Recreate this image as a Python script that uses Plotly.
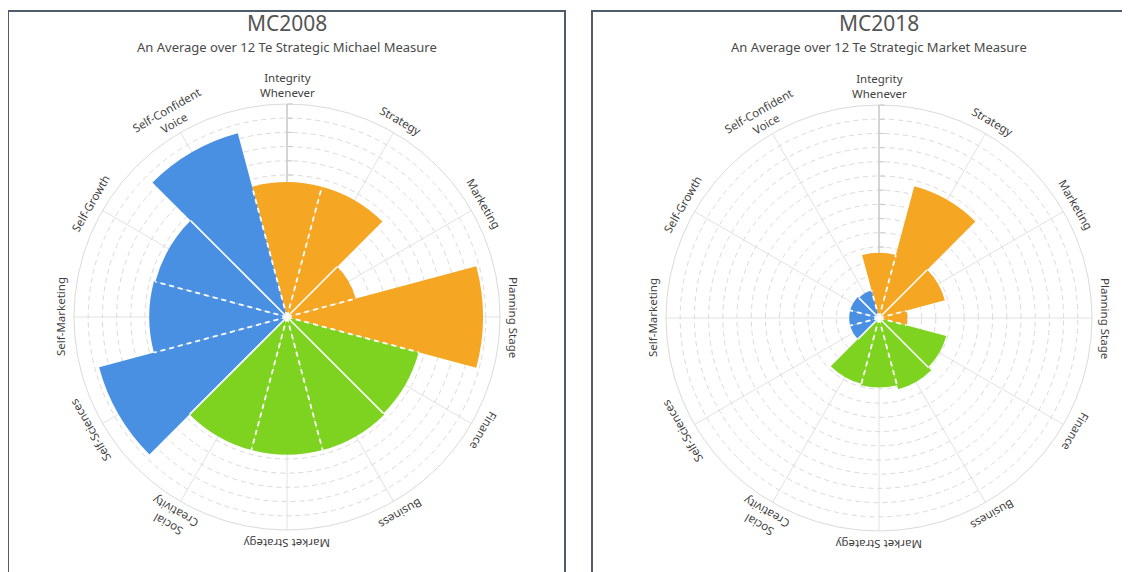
import math
import plotly.graph_objects as go

# ---------------- data ----------------
categories = [
    "Integrity<br>Whenever", "Strategy", "Marketing", "Planning Stage",
    "Finance", "Business", "Market Strategy", "Social<br>Creativity",
    "Self-Sciences", "Self-Marketing", "Self-Growth", "Self-Confident<br>Voice",
]
groups = ["A", "A", "A", "A", "B", "B", "B", "B", "C", "C", "C", "C"]
group_colors = {"A": "#F5A623", "B": "#7ED321", "C": "#4A90E2"}

mc2008 = [9.5, 9.5, 5.0, 13.8, 9.6, 9.7, 9.7, 9.7, 13.7, 9.7, 9.6, 13.4]
mc2018 = [4.6, 9.6, 4.8, 2.0, 4.9, 5.2, 4.9, 4.8, 2.1, 2.1, 2.1, 2.0]

radial_ticks = list(range(1, 16))
radial_max = 15

titles = ["MC2008", "MC2018"]
subtitles = [
    "An Average over 12 Te Strategic Michael Measure",
    "An Average over 12 Te Strategic Market Measure",
]

# ---------------- layout geometry (page pixels) ----------------
W, H = 1130, 572
OFF = 8            # page body margin compensation
R_PX = 213
centers = [(287, 317), (879, 318)]
boxes = [(8, 11, 565, 590), (592, 11, 1127, 590)]
FONT = "Noto Sans"


def px_x(x):
    return (x - OFF) / W


def px_y(y):
    return 1 - (y - OFF) / H


n = len(categories)
step = 360 / n
angles = [i * step for i in range(n)]
colors = [group_colors[g] for g in groups]

fig = go.Figure()
annotations = []
shapes = []

for k, (vals, (cx, cy)) in enumerate(zip([mc2008, mc2018], centers)):
    pname = "polar" if k == 0 else "polar2"
    fig.add_trace(go.Barpolar(
        r=vals, theta=angles, width=[step] * n,
        marker=dict(color=colors, line=dict(width=0)),
        subplot=pname, showlegend=False, hoverinfo="r+theta",
    ))
    # white separators between wedges
    for i in range(n):
        b = angles[i] + step / 2
        rr = min(vals[i], vals[(i + 1) % n])
        solid = abs(((b - 45) % 90)) < 1e-6
        fig.add_trace(go.Scatterpolar(
            r=[0, rr], theta=[b, b], mode="lines",
            line=dict(color="white", width=1.6 if solid else 1.8,
                      dash="solid" if solid else "5px,4px"),
            subplot=pname, showlegend=False, hoverinfo="skip",
        ))
    fig.update_layout(**{pname: dict(
        domain=dict(x=[px_x(cx - R_PX), px_x(cx + R_PX)],
                    y=[px_y(cy + R_PX), px_y(cy - R_PX)]),
        bgcolor="white",
        radialaxis=dict(
            range=[0, radial_max], tickvals=radial_ticks,
            showticklabels=False, ticks="outside", ticklen=5, tickcolor="#c8c8c8",
            showline=True, linecolor="#b8b8b8", linewidth=1, angle=90,
            gridcolor="#dadada", griddash="5px,4px", layer="below traces",
        ),
        angularaxis=dict(
            rotation=90, direction="clockwise", tickvals=angles,
            showticklabels=False, ticks="", gridcolor="#e2e2e2",
            showline=True, linecolor="#dadada", layer="below traces",
        ),
    )})

    # category labels, rotated tangentially
    for a, lab in zip(angles, categories):
        rl = R_PX + (19 if "<br>" in lab else 14)
        px = cx + rl * math.sin(math.radians(a))
        py = cy - rl * math.cos(math.radians(a))
        annotations.append(dict(
            x=px_x(px), y=px_y(py), xref="paper", yref="paper",
            text=lab, showarrow=False, textangle=a,
            xanchor="center", yanchor="middle",
            font=dict(family=FONT, size=11.5, color="#3f3f3f"),
        ))
    # titles
    annotations.append(dict(
        x=px_x(cx), y=px_y(23), xref="paper", yref="paper", text=titles[k],
        showarrow=False, xanchor="center", yanchor="middle",
        font=dict(family=FONT, size=21, color="#555555"),
    ))
    annotations.append(dict(
        x=px_x(cx), y=px_y(47), xref="paper", yref="paper", text=subtitles[k],
        showarrow=False, xanchor="center", yanchor="middle",
        font=dict(family=FONT, size=13, color="#4a4a4a"),
    ))

for (bx0, by0, bx1, by1) in boxes:
    shapes.append(dict(
        type="rect", xref="paper", yref="paper",
        x0=px_x(bx0), x1=px_x(bx1), y0=px_y(by1), y1=px_y(by0),
        line=dict(color="#4f5d6b", width=2), fillcolor="rgba(0,0,0,0)",
    ))

fig.update_layout(
    width=W, height=H, autosize=False,
    margin=dict(l=0, r=0, t=0, b=0),
    paper_bgcolor="white", plot_bgcolor="white",
    annotations=annotations, shapes=shapes,
    font=dict(family=FONT),
)

fig.write_html("out.html")
